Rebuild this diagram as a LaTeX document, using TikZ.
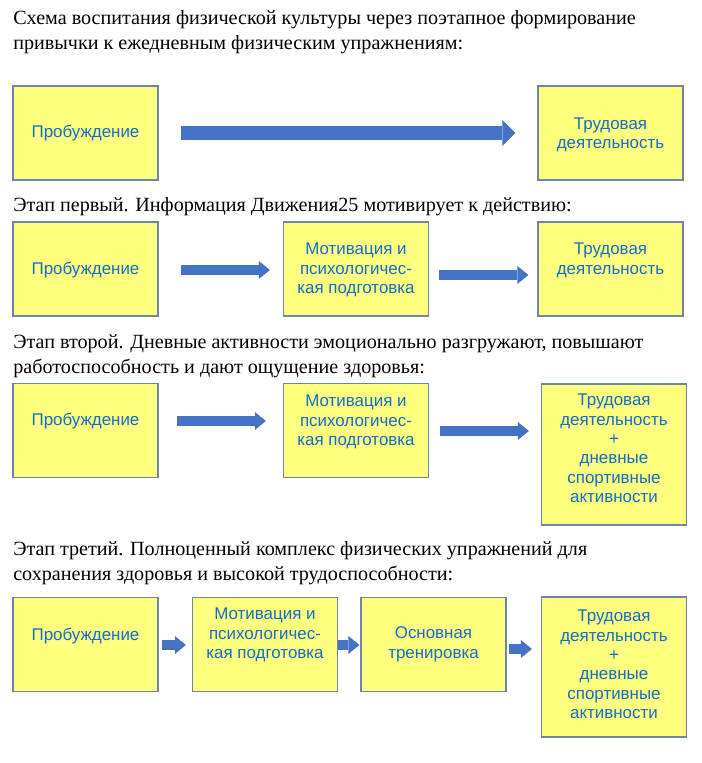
\documentclass[tikz,border=0pt]{standalone}
\usepackage{fontspec}
\setmainfont{Liberation Serif}
\setsansfont{Liberation Sans}
\usetikzlibrary{arrows.meta}
\definecolor{boxfill}{RGB}{255,255,128}
\definecolor{boxedge}{RGB}{112,132,168}
\definecolor{boxtext}{RGB}{20,110,200}
\definecolor{arrowblue}{RGB}{68,114,196}
\tikzset{
  box/.style={draw=boxedge,fill=boxfill,line width=0.9pt,inner sep=0pt,
    minimum width=108.75pt,minimum height=70.5pt},
  txt/.style={text=boxtext,align=center,inner sep=0pt,
    font=\sffamily\fontsize{12.7pt}{14.6pt}\selectfont},
  head/.style={anchor=base west,align=left,inner sep=0pt,
    font=\fontsize{15.1pt}{18.75pt}\selectfont},
  flow/.style={draw=arrowblue,line width=7.5pt,
    -{Triangle[width=13.5pt,length=8.25pt,line width'=0pt]}},
  bigflow/.style={flow,line width=10.5pt,
    -{Triangle[width=19.5pt,length=9.75pt,line width'=0pt]}}
}
\begin{document}
\begin{tikzpicture}[x=0.75pt,y=-0.75pt]
  \useasboundingbox (0,0) rectangle (701,763);
  % scheme
  \node[head] (h0) at (13,50) {Схема воспитания физической культуры через поэтапное формирование\\привычки к ежедневным физическим упражнениям:};
  \node[box,label={[txt]center:Пробуждение}] (p1) at (85.5,133) {};
  \node[box,label={[txt,shift={(0,2)}]center:{Трудовая\\деятельность}}] (t1) at (610.5,133) {};
  \draw[bigflow] ([shift={(22,0)}]p1.east) -- ([shift={(-22,0)}]t1.west);
  % stage one
  \node[head] (h1) at (13,211) {Этап первый. Информация Движения25 мотивирует к действию:};
  \node[box,label={[txt,shift={(0,1)}]center:Пробуждение}] (p2) at (85.5,269) {};
  \node[box,label={[txt,shift={(0,1)}]center:{Мотивация и\\психологичес-\\кая подготовка}}] (m2) at (356,269) {};
  \node[box,label={[txt,shift={(0,-8.5)}]center:{Трудовая\\деятельность}}] (t2) at (610.5,269) {};
  \draw[flow] ([shift={(22,1)}]p2.east) -- ([shift={(-13,1)}]m2.west);
  \draw[flow] ([shift={(10,6)}]m2.east) -- ([shift={(-9,6)}]t2.west);
  % stage two
  \node[head] (h2) at (13,373) {Этап второй. Дневные активности эмоционально разгружают, повышают\\работоспособность и дают ощущение здоровья:};
  \node[box,label={[txt,shift={(0,-9.5)}]center:Пробуждение}] (p3) at (85.5,430.5) {};
  \node[box,label={[txt,shift={(0,-8.5)}]center:{Мотивация и\\психологичес-\\кая подготовка}}] (m3) at (356,430.5) {};
  \node[box,minimum height=105.75pt,label={[txt,shift={(0,-6)}]center:{Трудовая\\деятельность\\+\\дневные\\спортивные\\активности}}] (t3) at (614,454.5) {};
  \draw[flow] ([shift={(18,-9.5)}]p3.east) -- ([shift={(-17,-9.5)}]m3.west);
  \draw[flow] ([shift={(11,0.5)}]m3.east) -- ([shift={(-12,-23.5)}]t3.west);
  % stage three
  \node[head] (h3) at (13,580) {Этап третий. Полноценный комплекс физических упражнений для\\сохранения здоровья и высокой трудоспособности:};
  \node[box,label={[txt,shift={(0,-8.5)}]center:Пробуждение}] (p4) at (85.5,644.5) {};
  \node[box,label={[txt,shift={(0,-9.5)}]center:{Мотивация и\\психологичес-\\кая подготовка}}] (m4) at (265,644.5) {};
  \node[box,label={[txt]center:{Основная\\тренировка}}] (o4) at (433.5,644.5) {};
  \node[box,minimum height=105pt,label={[txt,shift={(0,-2.5)}]center:{Трудовая\\деятельность\\+\\дневные\\спортивные\\активности}}] (t4) at (614,667) {};
  \draw[flow] ([shift={(3,0.5)}]p4.east) -- ([shift={(-6,0.5)}]m4.west);
  \draw[flow] ([shift={(0,0.5)}]m4.east) -- ([shift={(-1,0.5)}]o4.west);
  \draw[flow] ([shift={(2,4.5)}]o4.east) -- ([shift={(-9,-18)}]t4.west);
\end{tikzpicture}
\end{document}
